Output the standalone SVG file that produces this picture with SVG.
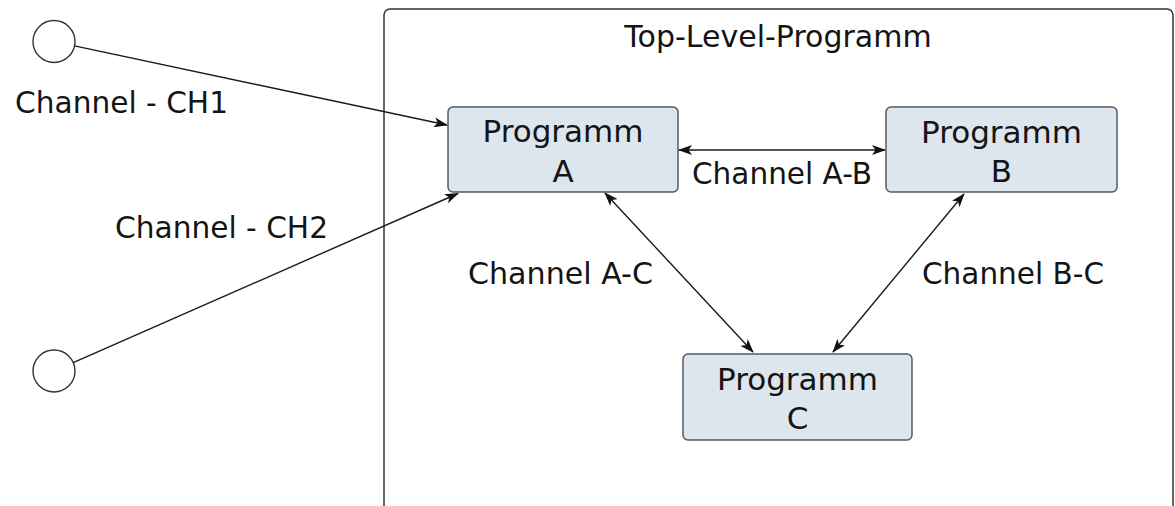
<svg xmlns="http://www.w3.org/2000/svg" width="1175" height="506" viewBox="0 0 1175 506">
  <style>
    .lbl { font-family: "DejaVu Sans", "Liberation Sans", sans-serif; font-size: 30px; fill: #141414; }
    .node-text { font-family: "DejaVu Sans", "Liberation Sans", sans-serif; font-size: 31px; fill: #141414; text-anchor: middle; }
    .box { fill: #dde5ed; stroke: #555a60; stroke-width: 1.5; }
    .conn { stroke: #1a1a1a; stroke-width: 1.4; fill: none; }
    .port { fill: #ffffff; stroke: #333333; stroke-width: 1.4; }
  </style>
  <defs>
    <marker id="arrow" viewBox="0 0 14 10" refX="13" refY="5" markerUnits="userSpaceOnUse" markerWidth="14" markerHeight="10" orient="auto-start-reverse">
      <path d="M0,0 L14,5 L0,10 L3.5,5 Z" fill="#111111"/>
    </marker>
  </defs>
  <rect width="1175" height="506" fill="#ffffff"/>

  <g id="top-level-programm">
    <rect x="384" y="9" width="789" height="540" rx="6" ry="6" fill="none" stroke="#333333" stroke-width="1.5"/>
    <text class="lbl" x="778" y="47" text-anchor="middle">Top-Level-Programm</text>
  </g>

  <g id="port-ch1">
    <circle class="port" cx="54" cy="41.5" r="21"/>
  </g>
  <g id="port-ch2">
    <circle class="port" cx="54" cy="371" r="21"/>
  </g>

  <g id="programm-a">
    <rect class="box" x="448" y="107" width="230" height="85" rx="5" ry="5"/>
    <text class="node-text" x="563" y="142">Programm</text>
    <text class="node-text" x="563" y="182">A</text>
  </g>
  <g id="programm-b">
    <rect class="box" x="886" y="107" width="231" height="85" rx="5" ry="5"/>
    <text class="node-text" x="1001.5" y="143">Programm</text>
    <text class="node-text" x="1001.5" y="182">B</text>
  </g>
  <g id="programm-c">
    <rect class="box" x="683" y="354" width="229" height="86" rx="5" ry="5"/>
    <text class="node-text" x="797.5" y="389.5">Programm</text>
    <text class="node-text" x="797.5" y="429">C</text>
  </g>

  <g id="connectors">
    <line class="conn" x1="74.5" y1="45.9" x2="447" y2="125" marker-end="url(#arrow)"/>
    <line class="conn" x1="73.2" y1="362.6" x2="458" y2="193.5" marker-end="url(#arrow)"/>
    <line class="conn" x1="679" y1="150" x2="885" y2="150" marker-start="url(#arrow)" marker-end="url(#arrow)"/>
    <line class="conn" x1="605" y1="193" x2="753" y2="352" marker-start="url(#arrow)" marker-end="url(#arrow)"/>
    <line class="conn" x1="964" y1="194" x2="833" y2="352" marker-start="url(#arrow)" marker-end="url(#arrow)"/>
  </g>

  <g id="labels">
    <text class="lbl" x="15" y="113" textLength="213" lengthAdjust="spacingAndGlyphs">Channel - CH1</text>
    <text class="lbl" x="115" y="238" textLength="213" lengthAdjust="spacingAndGlyphs">Channel - CH2</text>
    <text class="lbl" x="692" y="184" textLength="180" lengthAdjust="spacingAndGlyphs">Channel A-B</text>
    <text class="lbl" x="468" y="284" textLength="185" lengthAdjust="spacingAndGlyphs">Channel A-C</text>
    <text class="lbl" x="922" y="284" textLength="182" lengthAdjust="spacingAndGlyphs">Channel B-C</text>
  </g>
</svg>
